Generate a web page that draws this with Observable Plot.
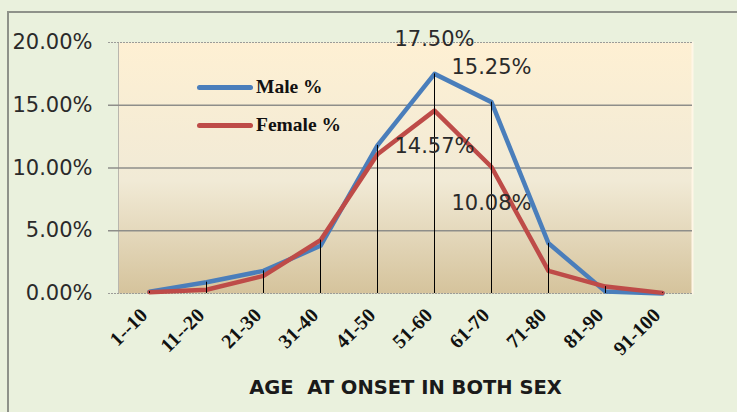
<!DOCTYPE html>
<html>
<head>
<meta charset="utf-8">
<script src="https://cdn.jsdelivr.net/npm/d3@7"></script>
<script src="https://cdn.jsdelivr.net/npm/@observablehq/plot@0.6"></script>
<style>
  html, body { margin: 0; padding: 0; background: #EAF1DD; }
  #wrap { position: relative; width: 737px; height: 412px; background: #EAF1DD; overflow: hidden; }
  #border { position: absolute; left: 7px; top: 11px; right: -5px; bottom: -5px; border-top: 2px solid #8f928a; border-left: 2px solid #8f928a; pointer-events: none; }
  svg text { white-space: pre; }
  .legend { position: absolute; left: 197px; font-family: "Liberation Serif", "DejaVu Serif", serif; font-weight: bold; font-size: 19.5px; color: #111; }
  .legend div { display: flex; align-items: center; height: 20px; }
  .legend span.sw { display: inline-block; width: 56px; height: 5px; border-radius: 3px; margin-right: 3px; }
</style>
</head>
<body>
<div id="wrap">
  <div id="chart"></div>
  <div id="border"></div>
  <div class="legend" id="legend" style="top:77px"></div>
</div>
<script>
const categories = ["1--10","11--20","21-30","31-40","41-50","51-60","61-70","71-80","81-90","91-100"];
const maleValues   = [0.15, 0.9, 1.8, 3.8, 11.8, 17.50, 15.25, 4.0, 0.15, 0.0];
const femaleValues = [0.1, 0.3, 1.4, 4.25, 11.1, 14.57, 10.08, 1.8, 0.55, 0.05];
const seriesNames = ["Male %", "Female %"];
const seriesColors = ["#4A7EBB", "#BE4B48"];
const labelledCategories = ["51-60", "61-70"];
const yTicks = [0, 5, 10, 15, 20];
const xTitle = "AGE  AT ONSET IN BOTH SEX";

const male = categories.map((c, i) => ({cat: c, v: maleValues[i]}));
const female = categories.map((c, i) => ({cat: c, v: femaleValues[i]}));
const drops = categories.map((c, i) => ({cat: c, v: Math.max(maleValues[i], femaleValues[i])}));
const maleLabels = male.filter(d => labelledCategories.includes(d.cat));
const femaleLabels = female.filter(d => labelledCategories.includes(d.cat));
const fmt = d => d.toFixed(2) + "%";
const numFont = "DejaVu Sans";

const chart = Plot.plot({
  width: 737,
  height: 412,
  marginLeft: 118,
  marginRight: 45,
  marginTop: 42,
  marginBottom: 119,
  style: {background: "transparent", color: "#1a1a1a"},
  x: {type: "point", domain: categories, padding: 0.5, axis: null},
  y: {domain: [0, 20], axis: null},
  marks: [
    Plot.frame({fill: "url(#bgGrad)"}),
    Plot.frame({anchor: "left", stroke: "#b9b6ad", strokeWidth: 1}),
    Plot.frame({anchor: "right", stroke: "#fff6e6", strokeWidth: 2}),
    Plot.ruleY(yTicks.filter(t => t > 0 && t < 20), {stroke: "#8e8e8a", strokeWidth: 1.3, insetLeft: -10}),
    Plot.ruleY([20], {stroke: "#9c9c98", strokeWidth: 1, strokeDasharray: "2,1", insetLeft: -10}),
    Plot.ruleY([0], {stroke: "#9c9c98", strokeWidth: 1, strokeDasharray: "2,1", insetLeft: -10}),
    Plot.line(male, {x: "cat", y: "v", stroke: seriesColors[0], strokeWidth: 4.5}),
    Plot.line(female, {x: "cat", y: "v", stroke: seriesColors[1], strokeWidth: 4.5}),
    Plot.ruleX(drops, {x: "cat", y1: 0, y2: "v", stroke: "#000", strokeWidth: 1}),
    Plot.text(maleLabels, {x: "cat", y: "v", text: d => fmt(d.v), dy: -35, fontSize: 21, fontFamily: numFont, fill: "#2a2a2a"}),
    Plot.text(femaleLabels, {x: "cat", y: "v", text: d => fmt(d.v), dy: 36, fontSize: 21, fontFamily: numFont, fill: "#2a2a2a"}),
    Plot.text(yTicks, {y: d => d, text: fmt, frameAnchor: "left", textAnchor: "end", dx: -26, fontSize: 21, fontFamily: numFont, fill: "#2a2a2a"}),
    Plot.text(categories, {x: d => d, text: d => d, frameAnchor: "bottom", rotate: -45, textAnchor: "end", dx: -1, dy: 23, fontSize: 20, fontWeight: "bold", fontFamily: "Liberation Serif", fill: "#111"}),
    Plot.text([xTitle], {text: d => d, frameAnchor: "bottom", dy: 100, fontSize: 19.5, fontWeight: "bold", fontFamily: "DejaVu Sans", fill: "#1a1a1a"})
  ]
});

const ns = "http://www.w3.org/2000/svg";
const defs = document.createElementNS(ns, "defs");
const grad = document.createElementNS(ns, "linearGradient");
grad.setAttribute("id", "bgGrad");
grad.setAttribute("x1", "0"); grad.setAttribute("y1", "0");
grad.setAttribute("x2", "0"); grad.setAttribute("y2", "1");
[["0", "#FEF0D3"], ["0.55", "#F1EAD6"], ["1", "#D5C39C"]].forEach(([o, c]) => {
  const s = document.createElementNS(ns, "stop");
  s.setAttribute("offset", o); s.setAttribute("stop-color", c);
  grad.appendChild(s);
});
defs.appendChild(grad);
chart.insertBefore(defs, chart.firstChild);
document.getElementById("chart").appendChild(chart);

const legend = document.getElementById("legend");
seriesNames.forEach((name, i) => {
  const row = document.createElement("div");
  row.style.marginBottom = i === 0 ? "18px" : "0";
  const sw = document.createElement("span");
  sw.className = "sw";
  sw.style.background = seriesColors[i];
  row.appendChild(sw);
  row.appendChild(document.createTextNode(name));
  legend.appendChild(row);
});
</script>
</body>
</html>
